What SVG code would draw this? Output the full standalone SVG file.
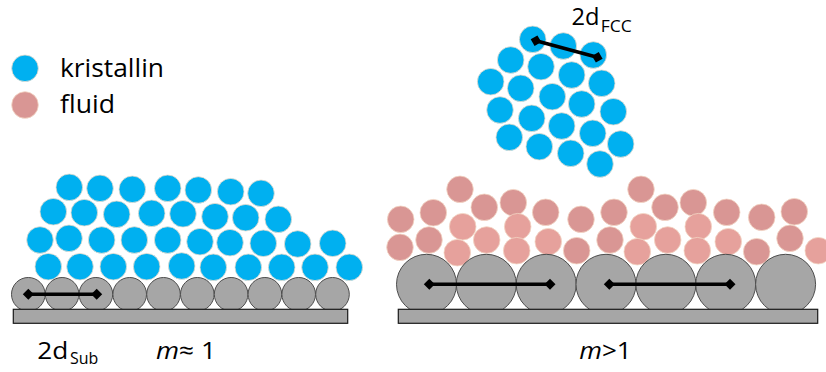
<svg xmlns="http://www.w3.org/2000/svg" width="826" height="372" viewBox="0 0 826 372">
  <style>
    .cry { fill: #00b0f0; stroke: #e8dccd; stroke-width: 0.8; }
    .fl1 { fill: #d99694; stroke: #f2d6c4; stroke-width: 0.8; }
    .fl2 { fill: #e6a19c; stroke: #f2d6c4; stroke-width: 0.8; }
    .sub { fill: #a6a6a6; stroke: #4d4d4d; stroke-width: 1; }
    .base { fill: #a6a6a6; stroke: #1a1a1a; stroke-width: 1.2; }
    .bar { stroke: #000; stroke-width: 3.5; fill: none; }
    .tip { fill: #000; }
    text { font-family: "Open Sans", "Liberation Sans", sans-serif; fill: #000; }
  </style>
  <defs>
    <circle id="c" r="13.3"/>
    <circle id="s1" r="16.8"/>
    <circle id="s2" r="30"/>
    <path id="dia" d="M-5.5 0 L0 -5.5 L5.5 0 L0 5.5 Z"/>
  </defs>

  <!-- legend -->
  <g id="legend">
    <circle class="cry" cx="25" cy="68.3" r="13.3"/>
    <circle class="fl1" cx="25" cy="105" r="13.3"/>
    <text x="60" y="77.3" font-size="25" textLength="104" lengthAdjust="spacingAndGlyphs">kristallin</text>
    <text x="60" y="113" font-size="25" textLength="55" lengthAdjust="spacingAndGlyphs">fluid</text>
  </g>

  <!-- left panel: crystal layer on matching substrate -->
  <g id="crystal-left" class="cry">
    <use href="#c" x="69.3" y="187.3"/>
    <use href="#c" x="100" y="188.3"/>
    <use href="#c" x="132.3" y="189.3"/>
    <use href="#c" x="167.7" y="188.3"/>
    <use href="#c" x="198.3" y="190"/>
    <use href="#c" x="230.7" y="191.7"/>
    <use href="#c" x="261" y="193.3"/>

    <use href="#c" x="53.3" y="211.7"/>
    <use href="#c" x="84.3" y="212.7"/>
    <use href="#c" x="116.7" y="214.3"/>
    <use href="#c" x="151.7" y="213.3"/>
    <use href="#c" x="183" y="213.8"/>
    <use href="#c" x="215" y="216.7"/>
    <use href="#c" x="245.7" y="217.7"/>
    <use href="#c" x="278.3" y="219.3"/>

    <use href="#c" x="40" y="240"/>
    <use href="#c" x="69" y="238.3"/>
    <use href="#c" x="101.7" y="240"/>
    <use href="#c" x="134.3" y="240"/>
    <use href="#c" x="167.7" y="240"/>
    <use href="#c" x="200" y="241.7"/>
    <use href="#c" x="230" y="242.7"/>
    <use href="#c" x="263.3" y="243.3"/>
    <use href="#c" x="297.7" y="244"/>
    <use href="#c" x="332.7" y="243.3"/>

    <use href="#c" x="48.3" y="266.7"/>
    <use href="#c" x="80" y="266.7"/>
    <use href="#c" x="113.3" y="266.7"/>
    <use href="#c" x="146.7" y="266.7"/>
    <use href="#c" x="181.7" y="266"/>
    <use href="#c" x="213.3" y="267.3"/>
    <use href="#c" x="248.3" y="267.3"/>
    <use href="#c" x="281.7" y="267.3"/>
    <use href="#c" x="315" y="267.3"/>
    <use href="#c" x="349.3" y="267.3"/>
  </g>

  <g id="substrate-left">
    <g class="sub">
      <use href="#s1" x="28.3" y="294.3"/>
      <use href="#s1" x="62.1" y="294.3"/>
      <use href="#s1" x="95.9" y="294.3"/>
      <use href="#s1" x="129.7" y="294.3"/>
      <use href="#s1" x="163.5" y="294.3"/>
      <use href="#s1" x="197.3" y="294.3"/>
      <use href="#s1" x="231.1" y="294.3"/>
      <use href="#s1" x="264.9" y="294.3"/>
      <use href="#s1" x="298.7" y="294.3"/>
      <use href="#s1" x="332.5" y="294.3"/>
    </g>
    <rect class="base" x="13.3" y="309.3" width="334.4" height="14"/>
  </g>

  <!-- right panel: fluid layer on large substrate -->
  <g id="fluid-right">
    <g class="fl1">
      <use href="#c" x="400.7" y="219.3"/>
      <use href="#c" x="400" y="247.3"/>
      <use href="#c" x="433.3" y="212.7"/>
      <use href="#c" x="429" y="240"/>
      <use href="#c" x="460" y="189.3"/>
      <use href="#c" x="484.3" y="207.3"/>
      <use href="#c" x="513.3" y="202.7"/>
      <use href="#c" x="545.7" y="212.3"/>
      <use href="#c" x="581" y="219.3"/>
      <use href="#c" x="576.7" y="250.7"/>
      <use href="#c" x="614" y="212.3"/>
      <use href="#c" x="610" y="240"/>
      <use href="#c" x="641" y="189.3"/>
      <use href="#c" x="665" y="207.3"/>
      <use href="#c" x="693.3" y="202.7"/>
      <use href="#c" x="726.7" y="212.3"/>
      <use href="#c" x="761.7" y="217.3"/>
      <use href="#c" x="756.7" y="251.7"/>
      <use href="#c" x="794.3" y="211.7"/>
      <use href="#c" x="790" y="238.3"/>
    </g>
    <g class="fl2">
      <use href="#c" x="462.7" y="226.7"/>
      <use href="#c" x="457.3" y="252.7"/>
      <use href="#c" x="486.7" y="240"/>
      <use href="#c" x="517.7" y="226.7"/>
      <use href="#c" x="516.7" y="250.7"/>
      <use href="#c" x="548.3" y="241.7"/>
      <use href="#c" x="643.3" y="226.7"/>
      <use href="#c" x="637.3" y="251.7"/>
      <use href="#c" x="667.7" y="240"/>
      <use href="#c" x="698.3" y="226.7"/>
      <use href="#c" x="697.3" y="250.7"/>
      <use href="#c" x="728.3" y="241.7"/>
      <use href="#c" x="818.3" y="250.7"/>
    </g>
  </g>

  <g id="substrate-right">
    <g class="sub">
      <use href="#s2" x="426.5" y="284.3"/>
      <use href="#s2" x="486.3" y="284.3"/>
      <use href="#s2" x="546.2" y="284.3"/>
      <use href="#s2" x="606" y="284.3"/>
      <use href="#s2" x="665.9" y="284.3"/>
      <use href="#s2" x="725.7" y="284.3"/>
      <use href="#s2" x="785.6" y="284.3"/>
    </g>
    <rect class="base" x="398.3" y="309.3" width="419.4" height="14"/>
  </g>

  <!-- floating FCC crystallite -->
  <g id="crystallite" class="cry">
    <use href="#c" x="532.7" y="39.3"/>
    <use href="#c" x="563.3" y="46"/>
    <use href="#c" x="593.3" y="55"/>
    <use href="#c" x="510.7" y="60"/>
    <use href="#c" x="541" y="66.7"/>
    <use href="#c" x="571.7" y="75"/>
    <use href="#c" x="601.7" y="83.3"/>
    <use href="#c" x="490.7" y="81.7"/>
    <use href="#c" x="520.7" y="88.3"/>
    <use href="#c" x="552.3" y="96.7"/>
    <use href="#c" x="581.7" y="104"/>
    <use href="#c" x="613.3" y="111.7"/>
    <use href="#c" x="500" y="110"/>
    <use href="#c" x="531.7" y="118.3"/>
    <use href="#c" x="561.7" y="126"/>
    <use href="#c" x="592.7" y="133.3"/>
    <use href="#c" x="620.7" y="144"/>
    <use href="#c" x="509.3" y="137.3"/>
    <use href="#c" x="539.3" y="146.7"/>
    <use href="#c" x="570.7" y="153.3"/>
    <use href="#c" x="600" y="164"/>
  </g>

  <!-- distance markers -->
  <g id="connectors">
    <line class="bar" x1="28.3" y1="294.3" x2="96.7" y2="294.3"/>
    <use class="tip" href="#dia" x="28.3" y="294.3"/>
    <use class="tip" href="#dia" x="96.7" y="294.3"/>

    <line class="bar" x1="429.3" y1="284.3" x2="550" y2="284.3"/>
    <use class="tip" href="#dia" x="429.3" y="284.3"/>
    <use class="tip" href="#dia" x="550" y="284.3"/>

    <line class="bar" x1="609.3" y1="284.3" x2="730" y2="284.3"/>
    <use class="tip" href="#dia" x="609.3" y="284.3"/>
    <use class="tip" href="#dia" x="730" y="284.3"/>

    <line class="bar" x1="536" y1="40.7" x2="597.3" y2="57.3"/>
    <use class="tip" href="#dia" transform="translate(536 40.7) rotate(15)"/>
    <use class="tip" href="#dia" transform="translate(597.3 57.3) rotate(15)"/>
  </g>

  <!-- labels -->
  <g id="labels">
    <text x="571.5" y="25" font-size="24" textLength="28" lengthAdjust="spacingAndGlyphs">2d</text>
    <text x="600.7" y="31.7" font-size="16" textLength="31" lengthAdjust="spacingAndGlyphs">FCC</text>

    <text x="37.3" y="359.3" font-size="24" textLength="31" lengthAdjust="spacingAndGlyphs">2d</text>
    <text x="70" y="364.3" font-size="16.5" textLength="28.3" lengthAdjust="spacingAndGlyphs">Sub</text>

    <text x="156" y="359.3" font-size="24" textLength="60" lengthAdjust="spacingAndGlyphs"><tspan font-style="italic">m</tspan>≈ 1</text>
    <text x="579.3" y="359.3" font-size="24" textLength="52.4" lengthAdjust="spacingAndGlyphs"><tspan font-style="italic">m</tspan>&gt;1</text>
  </g>
</svg>
